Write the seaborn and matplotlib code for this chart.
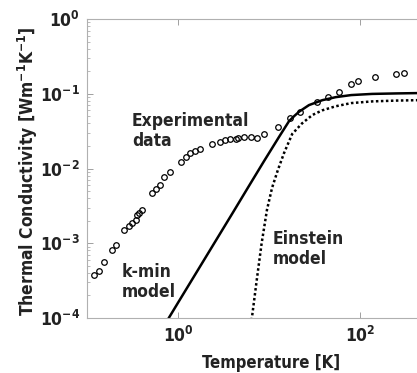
import numpy as np
import pandas as pd
import matplotlib
matplotlib.use("Agg")
import matplotlib.pyplot as plt
import seaborn as sns

# Experimental data (T [K], k [W/m/K])
exp_T = [0.119, 0.1355, 0.154, 0.1866, 0.21, 0.255, 0.29, 0.315, 0.343, 0.352, 0.373, 0.399,
         0.514, 0.569, 0.629, 0.702, 0.81, 1.07, 1.21, 1.37, 1.54, 1.76, 2.38, 2.87, 3.28,
         3.73, 4.38, 4.6, 5.31, 6.29, 7.45, 8.89, 12.5, 17.0, 21.9, 34.0, 44.9, 58.8, 80.3,
         95.9, 146, 247, 305]
exp_k = [3.76e-4, 4.3e-4, 5.55e-4, 8.1e-4, 9.6e-4, 1.5e-3, 1.7e-3, 1.88e-3, 2.05e-3, 2.39e-3,
         2.56e-3, 2.78e-3, 4.66e-3, 5.26e-3, 6.0e-3, 7.78e-3, 8.9e-3, 1.21e-2, 1.41e-2, 1.6e-2,
         1.71e-2, 1.82e-2, 2.13e-2, 2.29e-2, 2.41e-2, 2.46e-2, 2.48e-2, 2.53e-2, 2.61e-2,
         2.67e-2, 2.59e-2, 2.9e-2, 3.63e-2, 4.69e-2, 5.64e-2, 7.68e-2, 9.14e-2, 1.045e-1,
         1.35e-1, 1.48e-1, 1.69e-1, 1.84e-1, 1.88e-1]

# k-min model curve
kmin_T = [0.7, 1.0, 2.0, 4.0, 6.0, 8.8, 12.9, 16.6, 19.0, 21.4, 27.5, 38.5, 54, 80, 136, 250, 420, 1000]
kmin_k = [7.8e-5, 1.6e-4, 6.4e-4, 2.56e-3, 5.8e-3, 1.25e-2, 2.65e-2, 4.3e-2, 5.05e-2, 5.75e-2,
          7.05e-2, 8.2e-2, 9.0e-2, 9.6e-2, 9.95e-2, 1.01e-1, 1.02e-1, 1.02e-1]

# Einstein model curve
ein_T = [6.3, 6.55, 7.4, 8.3, 9.5, 10.8, 12.5, 14.6, 18, 23, 30, 38.5, 54, 80, 136, 250, 420, 1000]
ein_k = [8e-5, 1.1e-4, 3.5e-4, 1.0e-3, 2.8e-3, 5.5e-3, 9.5e-3, 1.6e-2, 2.9e-2, 4.0e-2, 5.2e-2,
         6.0e-2, 6.8e-2, 7.5e-2, 7.9e-2, 8.1e-2, 8.2e-2, 8.3e-2]

y_ticks = [1e-4, 1e-3, 1e-2, 1e-1, 1e0]
y_ticklabels = ["10$^{-4}$", "10$^{-3}$", "10$^{-2}$", "10$^{-1}$", "10$^{0}$"]
x_ticks = [1, 100]
x_ticklabels = ["10$^{0}$", "10$^{2}$"]

sns.set_style("ticks")
plt.rcParams['font.family'] = ['DejaVu Sans']
plt.rcParams['font.stretch'] = 'condensed'
plt.rcParams['mathtext.fontset'] = 'custom'
plt.rcParams['mathtext.rm'] = 'DejaVu Sans:bold'
plt.rcParams['mathtext.it'] = 'DejaVu Sans:bold'
plt.rcParams['mathtext.bf'] = 'DejaVu Sans:bold'

fig = plt.figure(figsize=(4.17, 3.73), dpi=100)
ax = fig.add_axes([87/417, 55/373, 364/417, 299/373])

df_exp = pd.DataFrame({"T": exp_T, "k": exp_k})
df_kmin = pd.DataFrame({"T": kmin_T, "k": kmin_k})
df_ein = pd.DataFrame({"T": ein_T, "k": ein_k})

ax.set_xscale("log")
ax.set_yscale("log")

sns.lineplot(data=df_kmin, x="T", y="k", ax=ax, color="black", lw=1.8, estimator=None, sort=False)
sns.lineplot(data=df_ein, x="T", y="k", ax=ax, color="black", lw=1.8, estimator=None, sort=False,
             linestyle=(0, (1, 1)))
ax.plot(df_exp["T"], df_exp["k"], linestyle="none", marker="o", markersize=4.0,
        markerfacecolor="none", markeredgecolor="black", markeredgewidth=0.9)

ax.set_xlim(0.1, 1000)
ax.set_ylim(1e-4, 1)

ax.set_xticks(x_ticks)
ax.set_xticklabels(x_ticklabels)
ax.xaxis.set_minor_locator(matplotlib.ticker.NullLocator())
ax.set_yticks(y_ticks)
ax.set_yticklabels(y_ticklabels)

for s in ax.spines.values():
    s.set_color("#b0b0b0")
    s.set_linewidth(0.8)
ax.tick_params(which="both", direction="in", top=True, right=True, colors="#a0a0a0",
               labelcolor="#222222", labelsize=12.5)
ax.tick_params(which="major", length=4, width=0.7)
ax.tick_params(which="minor", length=2, width=0.5)
ax.tick_params(axis="y", pad=5)
ax.tick_params(axis="x", pad=6)
for lab in ax.get_xticklabels() + ax.get_yticklabels():
    lab.set_fontweight("bold")

ax.set_xlabel("Temperature [K]", fontsize=12, fontweight="bold", color="#222222")
ax.set_ylabel(r"Thermal Conductivity [Wm$^{-1}$K$^{-1}$]", fontsize=12.5,
              fontweight="bold", color="#222222")
ax.xaxis.set_label_coords(0.506, -0.12)
ax.yaxis.set_label_coords(-0.13, 0.49)

ax.text(0.312, 0.057, "Experimental\ndata", fontsize=12.5, fontweight="bold", va="top", ha="left",
        linespacing=1.15)
ax.text(0.243, 5.44e-4, "k-min\nmodel", fontsize=12.5, fontweight="bold", va="top", ha="left",
        linespacing=1.15)
ax.text(11.07, 1.5e-3, "Einstein\nmodel", fontsize=12.5, fontweight="bold", va="top", ha="left",
        linespacing=1.15)

fig.savefig("out.png", dpi=100)
